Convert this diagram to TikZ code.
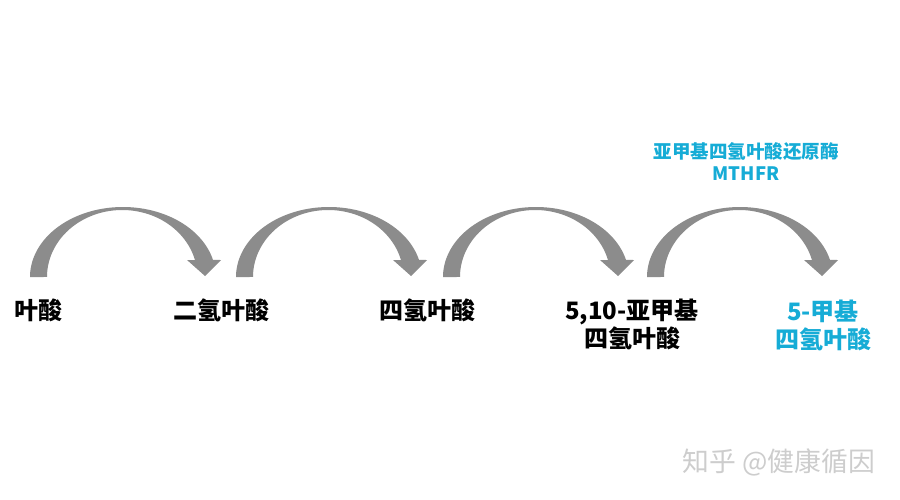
\documentclass[tikz,border=0pt]{standalone}
\usepackage{fontspec}
\setmainfont{Noto Sans CJK SC}
\definecolor{arrgray}{RGB}{140,140,140}
\definecolor{mblue}{RGB}{22,172,214}
\definecolor{wmgray}{RGB}{205,205,205}
\newcommand\mycurvedarrow[1]{%
  \fill[arrgray] (#1,277)
    -- plot[domain=180:14.06, samples=80, variable=\t] ({#1+92.9+92.9*cos(\t)},{277-70*sin(\t)})
    -- ({#1+191},260) -- ({#1+175},276) -- ({#1+157},260)
    -- plot[domain=14.7:180, samples=80, variable=\t] ({#1+92.2+75.2*cos(\t)},{277-67*sin(\t)})
    -- cycle;}
\begin{document}
\begin{tikzpicture}[x=1pt,y=-1pt,
  lab/.style={font=\bfseries\fontsize{24}{28}\selectfont, align=center, text=black, inner sep=0pt},
  bluelab/.style={lab, text=mblue},
  enzlab/.style={font=\bfseries\fontsize{18.5}{22}\selectfont, align=center, text=mblue, inner sep=0pt},
  wm/.style={font=\fontsize{26.8}{30}\selectfont, text=wmgray, inner sep=0pt}]
\useasboundingbox (0,0) rectangle (900,500);
\fill[white] (0,0) rectangle (900,500);
\foreach \xa in {30,236,443,647} {\mycurvedarrow{\xa}}
\node[lab] (fa) at (38,310) {叶酸};
\node[lab] (dhf) at (221,310) {二氢叶酸};
\node[lab] (thf) at (427,310) {四氢叶酸};
\node[lab] (mthf) at (632,324) {5,10-亚甲基\\四氢叶酸};
\node[bluelab] (m5) at (823,325) {5-甲基\\四氢叶酸};
\node[enzlab] (enz) at (746,162) {亚甲基四氢叶酸还原酶\\MTHFR};
\node[wm] (wmk) at (779,462) {知乎 @健康循因};
\end{tikzpicture}
\end{document}
